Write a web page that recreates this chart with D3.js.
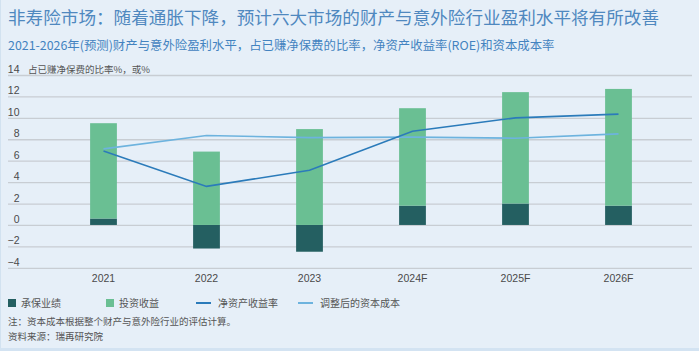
<!DOCTYPE html>
<html>
<head>
<meta charset="utf-8">
<script src="https://cdn.jsdelivr.net/npm/d3@7"></script>
<style>
  html, body { margin: 0; padding: 0; background: #e6eff8; }
  svg { display: block; }
  text { font-family: "Liberation Sans", Arial, "Noto Sans CJK SC", sans-serif; }
  .cjk { font-family: "Noto Sans CJK SC", sans-serif; }
</style>
</head>
<body>
<div class="container"></div>
<script>
const WIDTH = 699,
    HEIGHT = 351,
    GRID_LEFT = 8,
    GRID_RIGHT = 692,
    PLOT_TOP = 75,
    PLOT_BOTTOM = 267.8;

const years = ['2021', '2022', '2023', '2024F', '2025F', '2026F'];
const underwriting = [0.6, -2.2, -2.5, 1.8, 2.0, 1.8];
const investment = [8.9, 6.85, 8.95, 9.1, 10.4, 10.9];
const roe = [6.9, 3.6, 5.1, 8.75, 10.0, 10.35];
const costOfCapital = [7.1, 8.35, 8.15, 8.2, 8.1, 8.5];
const yTicks = [-4, -2, 0, 2, 4, 6, 8, 10, 12, 14];

const COLORS = {
    underwriting: '#245f61',
    investment: '#6abf93',
    roe: '#2b7bba',
    coc: '#6db3de'
};

const x = d3.scaleBand()
    .domain(years)
    .range([52, 670])
    .paddingInner(0.74)
    .paddingOuter(0.37);

const y = d3.scaleLinear()
    .domain([-4, 14])
    .range([PLOT_BOTTOM, PLOT_TOP]);

const cx = (d) => x(d) + x.bandwidth() / 2;

var svg = d3.select('.container').append('svg')
    .attr('width', WIDTH)
    .attr('height', HEIGHT);

svg.append('rect')
    .attr('width', WIDTH).attr('height', HEIGHT)
    .attr('fill', '#e6eff8');
svg.append('line')
    .attr('x1', 0.5).attr('x2', 0.5).attr('y1', 0).attr('y2', HEIGHT)
    .attr('stroke', '#d2e2f0');
svg.append('rect')
    .attr('x', 0).attr('y', HEIGHT - 3).attr('width', WIDTH).attr('height', 3)
    .attr('fill', '#d3e3f2');

// titles
svg.append('text')
    .attr('class', 'cjk')
    .attr('x', 8).attr('y', 24)
    .attr('font-size', 17.6)
    .attr('fill', '#4f88bf')
    .text('非寿险市场：随着通胀下降，预计六大市场的财产与意外险行业盈利水平将有所改善');

svg.append('text')
    .attr('class', 'cjk')
    .attr('x', 8).attr('y', 50)
    .attr('font-size', 12.4)
    .attr('fill', '#4383c0')
    .text('2021-2026年(预测)财产与意外险盈利水平，占已赚净保费的比率，净资产收益率(ROE)和资本成本率');

// y grid + labels
var yAxis = d3.axisRight(y)
    .tickValues(yTicks)
    .tickSize(GRID_RIGHT - GRID_LEFT)
    .tickFormat((d) => d < 0 ? '\u2212' + Math.abs(d) : d);

var gy = svg.append('g')
    .attr('transform', `translate(${GRID_LEFT},0)`)
    .call(yAxis);
gy.select('.domain').remove();
gy.selectAll('.tick line')
    .attr('stroke', '#c8cdd3')
    .attr('stroke-width', 1.3);
gy.selectAll('.tick text')
    .attr('x', 11.5)
    .attr('dy', -2.5)
    .attr('text-anchor', 'end')
    .attr('font-size', 10.5)
    .attr('fill', '#4a4a4a');

svg.append('text')
    .attr('class', 'cjk')
    .attr('x', 28).attr('y', y(14) - 2.5)
    .attr('font-size', 9.5)
    .attr('fill', '#555')
    .text('占已赚净保费的比率%，或%');

// x labels
var xAxis = d3.axisBottom(x).tickSize(0).tickPadding(7);
var gx = svg.append('g')
    .attr('transform', `translate(0,${PLOT_BOTTOM})`)
    .call(xAxis);
gx.select('.domain').remove();
gx.selectAll('.tick text')
    .attr('font-size', 10.5)
    .attr('fill', '#4a4a4a');

// stacked bars
var table = years.map((yr, i) => ({ year: yr, underwriting: underwriting[i], investment: investment[i] }));
var series = d3.stack()
    .keys(['underwriting', 'investment'])
    .offset(d3.stackOffsetDiverging)(table);

svg.append('g')
    .selectAll('g')
    .data(series)
    .enter().append('g')
    .attr('fill', (s) => COLORS[s.key])
    .selectAll('rect')
    .data((s) => s)
    .enter().append('rect')
    .attr('x', (d) => x(d.data.year))
    .attr('width', x.bandwidth())
    .attr('y', (d) => y(Math.max(d[0], d[1])))
    .attr('height', (d) => Math.abs(y(d[0]) - y(d[1])));

// lines
var addLine = (values, color) => {
    var line = d3.line()
        .x((d, i) => cx(years[i]))
        .y((d) => y(d));
    svg.append('path')
        .attr('d', line(values))
        .attr('fill', 'none')
        .attr('stroke', color)
        .attr('stroke-width', 1.6);
};
addLine(costOfCapital, COLORS.coc);
addLine(roe, COLORS.roe);

// legend
var legendItems = [
    { label: '承保业绩', color: COLORS.underwriting, type: 'box', x: 8 },
    { label: '投资收益', color: COLORS.investment, type: 'box', x: 106 },
    { label: '净资产收益率', color: COLORS.roe, type: 'line', x: 196 },
    { label: '调整后的资本成本', color: COLORS.coc, type: 'line', x: 298 }
];
var legend = svg.append('g').attr('transform', 'translate(0,303)');
legendItems.forEach((it) => {
    if (it.type === 'box') {
        legend.append('rect')
            .attr('x', it.x).attr('y', -4).attr('width', 8).attr('height', 8)
            .attr('fill', it.color);
        legend.append('text')
            .attr('class', 'cjk')
            .attr('x', it.x + 13).attr('y', 3.5)
            .attr('font-size', 10).attr('fill', '#555')
            .text(it.label);
    } else {
        legend.append('line')
            .attr('x1', it.x).attr('x2', it.x + 15).attr('y1', 0).attr('y2', 0)
            .attr('stroke', it.color).attr('stroke-width', 2);
        legend.append('text')
            .attr('class', 'cjk')
            .attr('x', it.x + 22).attr('y', 3.5)
            .attr('font-size', 10).attr('fill', '#555')
            .text(it.label);
    }
});

// notes
svg.append('text')
    .attr('class', 'cjk')
    .attr('x', 8).attr('y', 325)
    .attr('font-size', 9.5).attr('fill', '#555')
    .text('注：资本成本根据整个财产与意外险行业的评估计算。');
svg.append('text')
    .attr('class', 'cjk')
    .attr('x', 8).attr('y', 340)
    .attr('font-size', 9.5).attr('fill', '#555')
    .text('资料来源：瑞再研究院');
</script>
</body>
</html>
